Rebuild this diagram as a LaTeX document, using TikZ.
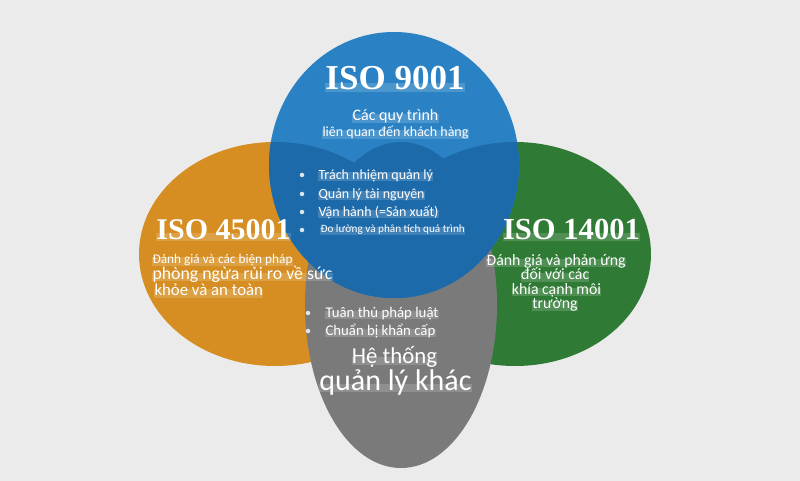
\documentclass[tikz,border=0pt]{standalone}
\usepackage{fontspec}
\setmainfont{Carlito}
\newfontfamily\isofont{Liberation Serif}
\definecolor{bg}{RGB}{235,235,235}
\definecolor{cblue}{RGB}{42,130,197}
\definecolor{cbluedk}{RGB}{28,106,170}
\definecolor{corange}{RGB}{214,142,34}
\definecolor{cgreen}{RGB}{47,123,53}
\definecolor{cgray}{RGB}{122,122,122}
\definecolor{cdot}{RGB}{225,230,235}
\begin{document}
\begin{tikzpicture}[x=1pt,y=-1pt,
  hl/.style={fill=white,fill opacity=0.16,text opacity=1,text=white,inner sep=0.3pt,text height=0.62em,text depth=0.18em},
  bl/.style={hl,anchor=base west},
  bc/.style={hl,anchor=base},
  dotb/.style={circle,fill=cdot,inner sep=0pt,minimum size=4.5pt},
  iso/.style={hl,anchor=base,font=\isofont\bfseries}]
\fill[bg] (0,0) rectangle (800,481);
\useasboundingbox (0,0) rectangle (800,481);
% shapes
\fill[corange] (275,254) ellipse [x radius=136, y radius=112];
\fill[cgreen] (515,254) ellipse [x radius=136, y radius=112];
\fill[cgray] (401,305) ellipse [x radius=96, y radius=163];
\fill[cblue] (394,165) ellipse [x radius=125, y radius=133];
\begin{scope}
  \clip (394,165) ellipse [x radius=125, y radius=133];
  \fill[cbluedk] (275,254) ellipse [x radius=136, y radius=112];
  \fill[cbluedk] (515,254) ellipse [x radius=136, y radius=112];
  \fill[cbluedk] (401,305) ellipse [x radius=96, y radius=163];
\end{scope}
% ISO 9001
\node[iso,font=\isofont\bfseries\fontsize{35}{38}\selectfont] (t9001) at (395,90) {ISO 9001};
\node[bc,font=\fontsize{16}{18}\selectfont] (t9a) at (395.5,121) {Các quy trình};
\node[bc,font=\fontsize{14}{16}\selectfont] (t9b) at (395.5,137) {liên quan đến khách hàng};
% common bullets
\node[bl,font=\fontsize{14}{16}\selectfont] (c1) at (318,179) {Trách nhiệm quản lý};
\node[bl,font=\fontsize{14}{16}\selectfont] (c2) at (318,198) {Quản lý tài nguyên};
\node[bl,font=\fontsize{14}{16}\selectfont] (c3) at (318,216) {Vận hành (=Sản xuất)};
\node[bl,font=\fontsize{11.2}{13}\selectfont] (c4) at (320,233) {Đo lường và phân tích quá trình};
\node[dotb] (d1) at (302,175) {};
\node[dotb] (d2) at (302,194) {};
\node[dotb] (d3) at (302,212) {};
\node[dotb] (d4) at (302,230) {};
% ISO 45001
\node[iso,font=\isofont\bfseries\fontsize{30}{33}\selectfont] (t45) at (223.5,239) {ISO 45001};
\node[bl,font=\fontsize{13.3}{15}\selectfont] (l1) at (152,263.5) {Đánh giá và các biện pháp};
\node[bl,font=\fontsize{17.8}{19}\selectfont] (l2) at (152,279) {phòng ngừa rủi ro về sức};
\node[bl,font=\fontsize{16.8}{19}\selectfont] (l3) at (154,295.5) {khỏe và an toàn};
% ISO 14001
\node[iso,font=\isofont\bfseries\fontsize{30.6}{33}\selectfont] (t14) at (571.5,239) {ISO 14001};
\node[bc,font=\fontsize{15.8}{18}\selectfont] (r1) at (556,265) {Đánh giá và phản ứng};
\node[bc,font=\fontsize{15.8}{18}\selectfont] (r2) at (555,279.5) {đối với các};
\node[bc,font=\fontsize{15.8}{18}\selectfont] (r3) at (556.5,294) {khía cạnh môi};
\node[bc,font=\fontsize{15.8}{18}\selectfont] (r4) at (555,308.5) {trường};
% other systems
\node[bl,font=\fontsize{14.8}{17}\selectfont] (b1) at (325,317) {Tuân thủ pháp luật};
\node[bl,font=\fontsize{14.8}{17}\selectfont] (b2) at (325,335) {Chuẩn bị khẩn cấp};
\node[dotb] (e1) at (308,313) {};
\node[dotb] (e2) at (308,331) {};
\node[bc,font=\fontsize{22.8}{25}\selectfont] (h1) at (394.5,363) {Hệ thống};
\node[bc,font=\fontsize{30}{33}\selectfont] (h2) at (395.5,390) {quản lý khác};
\end{tikzpicture}
\end{document}
